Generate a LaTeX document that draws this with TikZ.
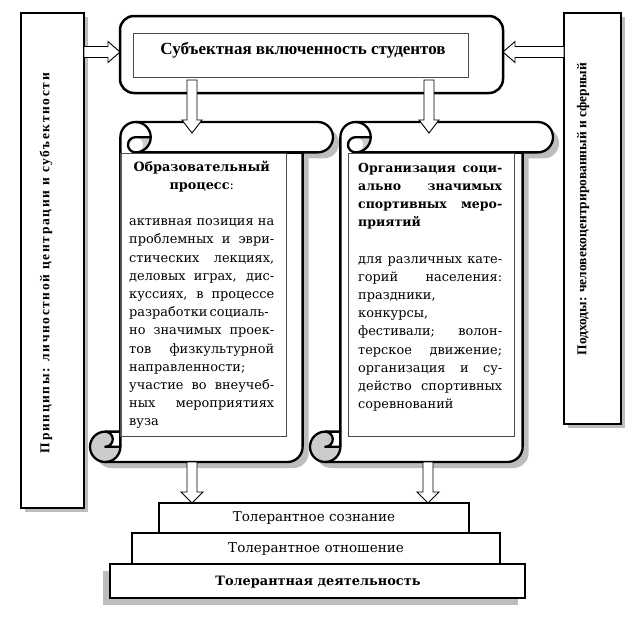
\documentclass[tikz,border=0pt]{standalone}
\usepackage{fontspec}
\setmainfont{DejaVu Serif}
\newfontfamily\tnr{Liberation Serif}
\definecolor{shd}{gray}{0.74}
\definecolor{curlc}{gray}{0.8}
\newlength\lw
\newcommand\J[1]{\hbox to\lw{#1}}
\newcommand\Lf[1]{\hbox to\lw{#1\hfil}}
\newcommand\Cc[1]{\hbox to\lw{\hfil#1\hfil}}
\newcommand\myscroll[4]{%
\pgfmathsetmacro\sch{0.125*min(#3-#1,#4-#2)}%
\pgfmathsetmacro\sh{\sch/2}%
\pgfmathsetmacro\sq{\sch/4}%
\pgfmathsetmacro\xA{#1+\sh}%
\pgfmathsetmacro\xB{#1+\sch}%
\pgfmathsetmacro\xC{#1+1.5*\sch}%
\pgfmathsetmacro\xD{#1+2*\sch}%
\pgfmathsetmacro\xF{#3-\sch}%
\pgfmathsetmacro\xG{#3-\sh}%
\pgfmathsetmacro\yA{#2+\sh}%
\pgfmathsetmacro\yB{#2+\sch}%
\pgfmathsetmacro\yD{#4-\sch}%
\pgfmathsetmacro\yE{#4-\sh}%
\fill[shd,shift={(6,6)}] (\xB,\yD) -- (\xB,\yA) arc[start angle=180,delta angle=90,radius=\sh] -- (\xG,#2) arc[start angle=270,delta angle=180,radius=\sh] -- (\xF,\yB) -- (\xF,\yE) arc[start angle=0,delta angle=90,radius=\sh] -- (\xA,#4) arc[start angle=90,delta angle=180,radius=\sh] -- cycle;
\fill[white] (\xB,\yD) -- (\xB,\yA) arc[start angle=180,delta angle=90,radius=\sh] -- (\xG,#2) arc[start angle=270,delta angle=180,radius=\sh] -- (\xF,\yB) -- (\xF,\yE) arc[start angle=0,delta angle=90,radius=\sh] -- (\xA,#4) arc[start angle=90,delta angle=180,radius=\sh] -- cycle;
\fill[curlc] (\xD,\yA) arc[start angle=0,delta angle=90,radius=\sh] arc[start angle=90,delta angle=-180,radius=\sq] -- cycle;
\fill[curlc] (\xB,\yE) arc[start angle=0,delta angle=270,radius=\sh] arc[start angle=270,delta angle=180,radius=\sq] -- cycle;
\draw[scrl] (\xB,\yD) -- (\xB,\yA) arc[start angle=180,delta angle=90,radius=\sh] -- (\xG,#2) arc[start angle=270,delta angle=180,radius=\sh] -- (\xF,\yB) -- (\xF,\yE) arc[start angle=0,delta angle=90,radius=\sh] -- (\xA,#4) arc[start angle=90,delta angle=180,radius=\sh] -- cycle;
\draw[scrl] (\xC,#2) arc[start angle=270,delta angle=180,radius=\sh] arc[start angle=90,delta angle=180,radius=\sq] -- (\xD,\yA);
\draw[scrl] (\xF,\yB) -- (\xC,\yB);
\draw[scrl] (\xA,\yD) arc[start angle=270,delta angle=180,radius=\sq] -- (\xB,\yE);
\draw[scrl] (\xA,#4) arc[start angle=90,delta angle=-90,radius=\sh] -- (\xB,\yD);
}
\begin{document}
\begin{tikzpicture}[x=1pt,y=-1pt,
  scrl/.style={line width=2.3pt,line join=round,line cap=round},
  sidebox/.style={draw,line width=2.4pt,fill=white},
  blk/.style={draw,line width=0.9pt,fill=white,line join=miter},
  thinrect/.style={draw=black!70,line width=0.7pt},
  tier/.style={draw,line width=2pt,fill=white},
  sidetext/.style={rotate=90,inner sep=0pt,font=\tnr\bfseries\fontsize{13.5}{16}\selectfont},
  body/.style={inner sep=0pt,font=\fontsize{12.9}{18.2}\selectfont},
  ttl/.style={font=\bfseries\fontsize{12.5}{18.2}\selectfont},
  tiertext/.style={inner sep=0pt,font=\fontsize{13.5}{15}\selectfont}]
\useasboundingbox (0,0) rectangle (643,621);
\fill[white] (0,0) rectangle (643,621);
% side boxes
\fill[shd] (25,17) rectangle (88,512);
\draw[sidebox] (21,13) rectangle (84,508);
\node[sidetext] (lt) at (46,263) {\addfontfeature{LetterSpace=12}Принципы:  личностной  центрации  и  субъектности};
\fill[shd] (568,17) rectangle (625,428);
\draw[sidebox] (564,13) rectangle (621,424);
\node[sidetext] (rt) at (583,209) {Подходы:  человекоцентрированный и сферный};
% top box
\draw[line width=2.5pt,fill=white,rounded corners=14pt] (120,16) rectangle (503,93);
\draw[thinrect] (133,33) rectangle (468,77);
\node[inner sep=0pt,font=\tnr\bfseries\fontsize{17}{20}\selectfont] (top) at (303,50) {Субъектная включенность студентов};
% arrows from side boxes
\draw[blk] (84,46.5) -- (108,46.5) -- (108,41.5) -- (120,52) -- (108,62.5) -- (108,57.5) -- (84,57.5) -- cycle;
\draw[blk] (564,46.5) -- (515,46.5) -- (515,41.5) -- (503,52) -- (515,62.5) -- (515,57.5) -- (564,57.5) -- cycle;
% scrolls
\myscroll{90}{122}{333}{462}
\myscroll{310}{122}{553}{462}
\draw[thinrect] (120,153) rectangle (286,436);
\draw[thinrect] (348,153) rectangle (514,436);
% down arrows from top box
\draw[blk] (187,80) -- (197,80) -- (197,120) -- (202,120) -- (192,133) -- (182,120) -- (187,120) -- cycle;
\draw[blk] (424,80) -- (434,80) -- (434,120) -- (439,120) -- (429,133) -- (419,120) -- (424,120) -- cycle;
% scroll texts
\setlength\lw{145pt}
\node[body,anchor=base west] (lscroll) at (129,171) {\vtop{\hsize=\lw\baselineskip=18.2pt
\Cc{\textbf{\fontsize{12.8}{18.2}\selectfont Образовательный}}
\Cc{\textbf{\fontsize{12.8}{18.2}\selectfont процесс}:}
\hbox{}
\J{активная позиция на}
\J{проблемных и эври-}
\J{стических лекциях,}
\J{деловых играх, дис-}
\J{куссиях, в процессе}
\J{разработки\,социаль-}
\J{но значимых проек-}
\J{тов физкультурной}
\Lf{направленности;}
\J{участие во внеучеб-}
\J{ных мероприятиях}
\Lf{вуза}}};
\setlength\lw{144pt}
\node[body,anchor=base west] (rscroll) at (358,172) {\vtop{\hsize=\lw\baselineskip=18.2pt
\J{\textbf{\fontsize{12.5}{18.2}\selectfont Организация соци-}}
\J{\textbf{\fontsize{12.5}{18.2}\selectfont ально значимых}}
\J{\textbf{\fontsize{12.5}{18.2}\selectfont спортивных меро-}}
\Lf{\textbf{\fontsize{12.5}{18.2}\selectfont приятий}}
\hbox{}
\J{для различных кате-}
\J{горий населения:}
\Lf{праздники,}
\Lf{конкурсы,}
\J{фестивали; волон-}
\J{терское движение;}
\J{организация и су-}
\J{действо спортивных}
\Lf{соревнований}}};
% down arrows to tiers
\draw[blk] (187,462) -- (197,462) -- (197,492) -- (203,492) -- (192,503) -- (181,492) -- (187,492) -- cycle;
\draw[blk] (423,462) -- (433,462) -- (433,492) -- (439,492) -- (428,503) -- (417,492) -- (423,492) -- cycle;
% tiers
\fill[shd] (103,571) rectangle (518,605);
\draw[tier] (159,503) rectangle (469,533);
\node[tiertext] (t1) at (314,518) {Толерантное сознание};
\draw[tier] (132,533) rectangle (500,564);
\node[tiertext] (t2) at (316,549) {Толерантное отношение};
\draw[line width=2.8pt,fill=white] (110,564) rectangle (525,598);
\node[inner sep=0pt,font=\bfseries\fontsize{12.9}{15}\selectfont] (t3) at (318,582) {Толерантная деятельность};
\end{tikzpicture}
\end{document}
